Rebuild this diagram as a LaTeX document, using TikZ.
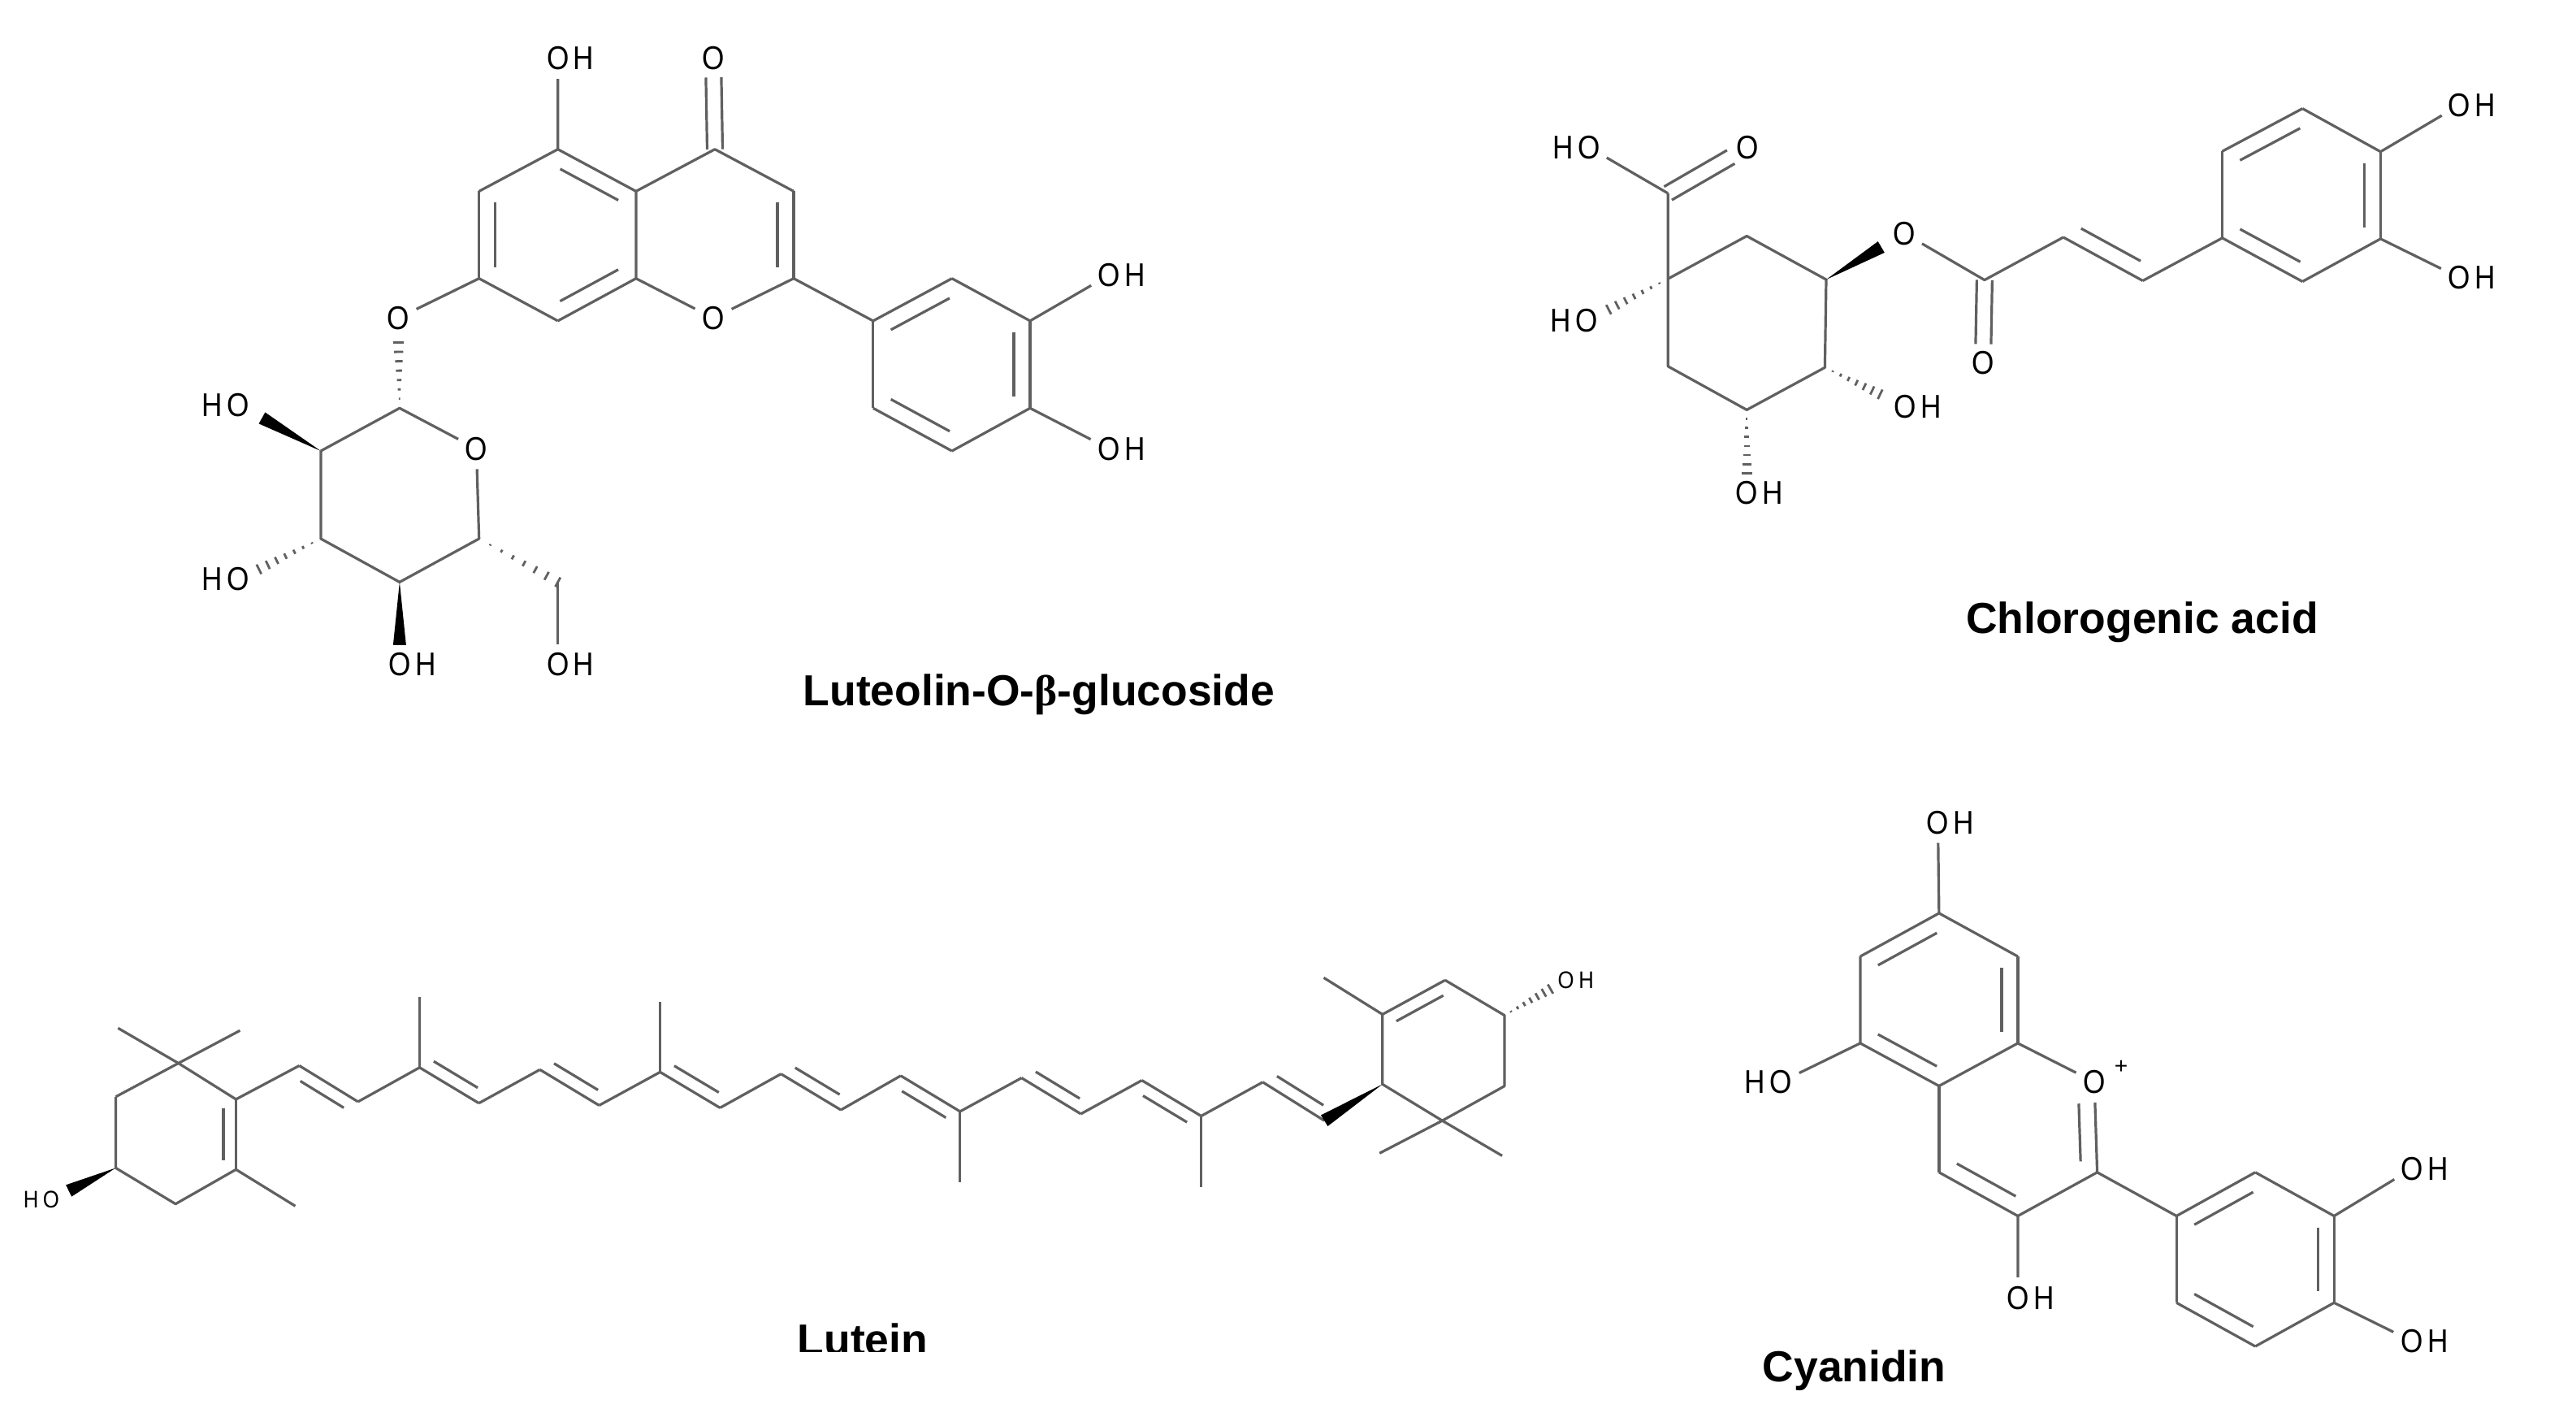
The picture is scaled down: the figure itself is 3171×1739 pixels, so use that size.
\documentclass[tikz,border=0pt]{standalone}
\usepackage{fontspec}
\setmainfont{Liberation Sans}
\newfontfamily\atomfont[FakeStretch=0.87]{Liberation Sans}
\newfontfamily\betafont{Liberation Serif}
\usetikzlibrary{calc, positioning}
\definecolor{bondgray}{RGB}{96,96,96}
\tikzset{
	bondline/.style={draw=bondgray, line width=0.032cm, line join=round},
	hashline/.style={draw=bondgray, line width=0.028cm},
	oatom/.style={circle, inner sep=0pt, minimum size=0.49cm, font=\atomfont\fontsize{11.5pt}{12pt}\selectfont},
	oatomsmall/.style={circle, inner sep=0pt, minimum size=0.3cm, font=\atomfont\fontsize{8.4pt}{9pt}\selectfont},
	chargelabel/.style={inner sep=0pt, font=\fontsize{8pt}{9pt}\selectfont},
	titlelabel/.style={inner sep=0pt, anchor=base west, font=\bfseries\fontsize{15.2pt}{17pt}\selectfont},
}
\newcommand\OHr{O\rlap{\kern1.6pt H}}
\newcommand\HOl{\llap{H\kern1.6pt}O}
\newcommand\dgap{0.2cm}
\newcommand\dcut{0.14cm}
\newcommand\dblbond[4][\dcut]{\pgfmathsetmacro\backang{-1*(#4)}\draw[bondline] (#2) -- (#3);\draw[bondline] ($($(#2)!\dcut!(#3)$)!\dgap!#4:(#3)$) -- ($($(#3)!#1!(#2)$)!\dgap!\backang:(#2)$);}
\newcommand\symbond[3][0.095cm]{\draw[bondline, shorten >=0.235cm] ($(#2)!#1!90:(#3)$) -- ($(#3)!#1!-90:(#2)$);\draw[bondline, shorten >=0.235cm] ($(#2)!#1!-90:(#3)$) -- ($(#3)!#1!90:(#2)$);}
\newcommand\wedgebond[3][0cm]{\coordinate (wedgeend) at ($(#3)!#1!(#2)$);\fill[black] (#2) -- ($(wedgeend)!0.08cm!90:(#2)$) -- ($(wedgeend)!0.08cm!-90:(#2)$) -- cycle;}
\newcommand\hashbond[3][0cm]{\coordinate (hashend) at ($(#3)!#1!(#2)$);\foreach \hk in {1,...,7} {\pgfmathsetmacro\hfrac{\hk/7}\pgfmathsetlengthmacro\hwid{0.065cm*\hk/7}\coordinate (hashstep) at ($(#2)!\hfrac!(hashend)$);\draw[hashline] ($(hashstep)!\hwid!90:(#2)$) -- ($(hashstep)!\hwid!-90:(#2)$);}}
\begin{document}
\begin{tikzpicture}[x=0.01cm,y=-0.01cm]
	\useasboundingbox (0,0) rectangle (3171,1739);

	% luteolin glucoside
	\coordinate (lc5) at (686.7,183.7); \coordinate (lc4a) at (782.9,235.4); \coordinate (lc8a) at (782.9,342.7);
	\coordinate (lc8) at (686.7,394.9); \coordinate (lc7) at (589.7,342.7); \coordinate (lc6) at (589.7,235.4);
	\coordinate (lc4) at (880,183.7); \coordinate (lc3) at (977,235.4); \coordinate (lc2) at (977,342.7);
	\coordinate (lb1) at (1074.8,394.9); \coordinate (lb2) at (1171.8,342.7); \coordinate (lb3) at (1268,394.9);
	\coordinate (lb4) at (1268,502.3); \coordinate (lb5) at (1171.8,555); \coordinate (lb6) at (1074.8,502.3);
	\coordinate (ls1) at (491.9,502.3); \coordinate (ls2) at (394.9,555); \coordinate (ls3) at (394.9,663);
	\coordinate (ls4) at (491.9,716.4); \coordinate (ls5) at (589.7,663); \coordinate (ls6) at (686.7,716.4);
	\node[oatom] (lo1) at (878,391.5) {O};
	\node[oatom] (lo4) at (878,71.8) {O};
	\node[oatom] (loh5) at (686.7,71.8) {\OHr};
	\node[oatom] (lo7) at (490,391.5) {O};
	\node[oatom] (loh3b) at (1365,338.7) {\OHr};
	\node[oatom] (loh4b) at (1365,552.2) {\OHr};
	\node[oatom] (los) at (586.4,552.2) {O};
	\node[oatom] (loh2s) at (293.7,498.3) {\HOl};
	\node[oatom] (loh3s) at (293.7,713) {\HOl};
	\node[oatom] (loh4s) at (491.9,818) {\OHr};
	\node[oatom] (loh6s) at (686.7,818) {\OHr};
	\draw[bondline] (lc6) -- (lc5) -- (loh5);
	\draw[bondline] (lc7) -- (lc8);
	\draw[bondline] (lc4a) -- (lc8a) -- (lo1) -- (lc2) -- (lb1);
	\draw[bondline] (lc4a) -- (lc4) -- (lc3);
	\draw[bondline] (lc7) -- (lo7);
	\draw[bondline] (lb2) -- (lb3) -- (loh3b);
	\draw[bondline] (lb4) -- (lb5);
	\draw[bondline] (lb6) -- (lb1);
	\draw[bondline] (lb4) -- (loh4b);
	\draw[bondline] (ls2) -- (ls1) -- (los) -- (ls5) -- (ls4) -- (ls3) -- (ls2);
	\draw[bondline] (ls6) -- (loh6s);
	\dblbond{lc5}{lc4a}{-90}
	\dblbond{lc6}{lc7}{90}
	\dblbond{lc8}{lc8a}{90}
	\dblbond{lc3}{lc2}{-90}
	\dblbond{lb1}{lb2}{-90}
	\dblbond{lb3}{lb4}{-90}
	\dblbond{lb5}{lb6}{-90}
	\symbond{lc4}{lo4}
	\wedgebond[0.33cm]{ls2}{loh2s}
	\wedgebond[0.24cm]{ls4}{loh4s}
	\hashbond[0.3cm]{ls1}{lo7}
	\hashbond[0.28cm]{ls3}{loh3s}
	\hashbond{ls5}{ls6}
	\node[titlelabel] (ltitle) at (988,868) {Luteolin-O-{\betafont β}-glucoside};

	% chlorogenic acid
	\coordinate (qc1) at (2053.2,343.2); \coordinate (qc2) at (2150.2,290.5); \coordinate (qc3) at (2248,344.1);
	\coordinate (qc4) at (2246.4,452.3); \coordinate (qc5) at (2150.2,504.4); \coordinate (qc6) at (2053.2,450.8);
	\coordinate (qcx) at (2053.2,237.9); \coordinate (qec) at (2442.9,344.6);
	\coordinate (qca) at (2539.9,292); \coordinate (qcb) at (2637.7,345.5);
	\coordinate (qr1) at (2735.6,292.9); \coordinate (qr2) at (2834.3,346.5); \coordinate (qr3) at (2930.4,293.9);
	\coordinate (qr4) at (2930.4,186.7); \coordinate (qr5) at (2834.3,133.6); \coordinate (qr6) at (2735.6,186.2);
	\node[oatom] (qohx) at (1956,181.4) {\HOl};
	\node[oatom] (qox) at (2151,181.4) {O};
	\node[oatom] (qoh1) at (1953.6,394.8) {\HOl};
	\node[oatom] (qoe) at (2344.2,287.2) {O};
	\node[oatom] (qoc) at (2441,447) {O};
	\node[oatom] (qoh4) at (2345,500.1) {\OHr};
	\node[oatom] (qoh5) at (2150.2,606.3) {\OHr};
	\node[oatom] (qoh3r) at (3027.5,129.3) {\OHr};
	\node[oatom] (qoh4r) at (3027.5,341.7) {\OHr};
	\draw[bondline] (qcx) -- (qc1) -- (qc2) -- (qc3) -- (qc4) -- (qc5) -- (qc6) -- (qc1);
	\draw[bondline] (qcx) -- (qohx);
	\draw[bondline] (qoe) -- (qec) -- (qca);
	\draw[bondline] (qcb) -- (qr1);
	\draw[bondline] (qr2) -- (qr3) -- (qoh4r);
	\draw[bondline] (qr4) -- (qr5);
	\draw[bondline] (qr6) -- (qr1);
	\draw[bondline] (qr4) -- (qoh3r);
	\dblbond{qca}{qcb}{90}
	\dblbond{qr1}{qr2}{90}
	\dblbond{qr3}{qr4}{90}
	\dblbond{qr5}{qr6}{90}
	\symbond{qcx}{qox}
	\symbond{qec}{qoc}
	\wedgebond[0.33cm]{qc3}{qoe}
	\hashbond[0.3cm]{qc1}{qoh1}
	\hashbond[0.34cm]{qc4}{qoh4}
	\hashbond[0.24cm]{qc5}{qoh5}
	\node[titlelabel] (qtitle) at (2419.5,779.5) {Chlorogenic acid};

	% lutein
	\renewcommand\dgap{0.155cm}
	\renewcommand\dcut{0.11cm}
	\coordinate (ug) at (219.6,1308.5); \coordinate (ua1) at (290.5,1352.9); \coordinate (ua2) at (290.5,1439.3);
	\coordinate (ua3) at (216.1,1481.7); \coordinate (ua4) at (142.5,1437.4); \coordinate (ua5) at (142.5,1349.8);
	\coordinate (um1) at (145.3,1265.3); \coordinate (um2) at (295.4,1268.3); \coordinate (um3) at (363.5,1484.3);
	\coordinate (uc1) at (368.4,1311.5); \coordinate (uc2) at (440.7,1355.9); \coordinate (uc3) at (516.5,1313.8);
	\coordinate (uc4) at (589.5,1357.7); \coordinate (uc5) at (664.6,1316.4); \coordinate (uc6) at (737.5,1360.4);
	\coordinate (uc7) at (812.6,1319.4); \coordinate (uc8) at (886.3,1363.4); \coordinate (uc9) at (961.4,1321.7);
	\coordinate (uc10) at (1035.1,1366); \coordinate (uc11) at (1108.8,1323.9); \coordinate (uc12) at (1181.8,1367.9);
	\coordinate (uc13) at (1257.5,1326.6); \coordinate (uc14) at (1330.5,1370.9); \coordinate (uc15) at (1405.6,1329.6);
	\coordinate (uc16) at (1478.6,1373.5); \coordinate (uc17) at (1554.4,1331.8); \coordinate (uc18) at (1630.2,1379.2);
	\coordinate (um4) at (516.5,1227); \coordinate (um5) at (812.6,1232.6);
	\coordinate (um6) at (1181.8,1455); \coordinate (um7) at (1478.6,1460.7);
	\coordinate (ub1) at (1701.8,1334.4); \coordinate (ub2) at (1701.8,1248.4); \coordinate (ub3) at (1778.9,1206.3);
	\coordinate (ub4) at (1851.9,1249.5); \coordinate (ub5) at (1851.9,1336.7); \coordinate (ubg) at (1775.4,1379.2);
	\coordinate (um8) at (1629.5,1203.3); \coordinate (um9) at (1698.2,1419.3); \coordinate (um10) at (1849.1,1422.4);
	\node[oatomsmall] (uohl) at (63,1476) {\HOl};
	\node[oatomsmall] (uohr) at (1927.7,1206.3) {\OHr};
	\draw[bondline] (ua5) -- (ug) -- (ua1);
	\draw[bondline] (ua5) -- (ua4) -- (ua3) -- (ua2);
	\draw[bondline] (um1) -- (ug) -- (um2);
	\draw[bondline] (ua2) -- (um3);
	\draw[bondline] (ua1) -- (uc1);
	\draw[bondline] (uc2) -- (uc3);
	\draw[bondline] (uc4) -- (uc5);
	\draw[bondline] (uc6) -- (uc7);
	\draw[bondline] (uc8) -- (uc9);
	\draw[bondline] (uc10) -- (uc11);
	\draw[bondline] (uc12) -- (uc13);
	\draw[bondline] (uc14) -- (uc15);
	\draw[bondline] (uc16) -- (uc17);
	\draw[bondline] (uc3) -- (um4);
	\draw[bondline] (uc7) -- (um5);
	\draw[bondline] (uc12) -- (um6);
	\draw[bondline] (uc16) -- (um7);
	\draw[bondline] (ub2) -- (ub1) -- (ubg) -- (ub5) -- (ub4) -- (ub3);
	\draw[bondline] (um8) -- (ub2);
	\draw[bondline] (um9) -- (ubg) -- (um10);
	\dblbond{ua1}{ua2}{-90}
	\dblbond{uc1}{uc2}{-90}
	\dblbond{uc3}{uc4}{90}
	\dblbond{uc5}{uc6}{90}
	\dblbond{uc7}{uc8}{90}
	\dblbond{uc9}{uc10}{90}
	\dblbond{uc11}{uc12}{-90}
	\dblbond{uc13}{uc14}{90}
	\dblbond{uc15}{uc16}{-90}
	\dblbond{uc17}{uc18}{90}
	\dblbond{ub2}{ub3}{-90}
	\wedgebond[0.24cm]{ua4}{uohl}
	\wedgebond{ub1}{uc18}
	\hashbond[0.22cm]{ub4}{uohr}
	\begin{scope}
		\clip (900,1600) rectangle (1200,1663);
		\node[titlelabel] (utitle) at (981,1667) {Lutein};
	\end{scope}

	% cyanidin
	\renewcommand\dgap{0.2cm}
	\renewcommand\dcut{0.14cm}
	\coordinate (cc6) at (2386.9,1123.9); \coordinate (cc5) at (2289.9,1177.1); \coordinate (cc4) at (2289.9,1283.9);
	\coordinate (cc4a) at (2386.9,1336.5); \coordinate (cc8a) at (2483.9,1283.9); \coordinate (cc8) at (2483.9,1177.1);
	\coordinate (cc2) at (2581.6,1442.8); \coordinate (cc3) at (2483.9,1496.5); \coordinate (cc1) at (2386.9,1442.8);
	\coordinate (cb1) at (2679.2,1496.5); \coordinate (cb2) at (2776.2,1442.8); \coordinate (cb3) at (2873.2,1496.5);
	\coordinate (cb4) at (2873.2,1603.3); \coordinate (cb5) at (2776.2,1657); \coordinate (cb6) at (2679.2,1603.3);
	\node[oatom] (co1) at (2578.1,1331.6) {O};
	\node[chargelabel] (cplus) at (2611,1313.7) {+};
	\node[oatom] (coh7) at (2385.5,1012.2) {\OHr};
	\node[oatom] (coh5) at (2192.2,1331.6) {\HOl};
	\node[oatom] (coh3) at (2483.9,1597.4) {\OHr};
	\node[oatom] (coh3b) at (2968.9,1438.4) {\OHr};
	\node[oatom] (coh4b) at (2968.9,1650.5) {\OHr};
	\draw[bondline] (coh7) -- (cc6);
	\draw[bondline] (cc6) -- (cc8);
	\draw[bondline] (cc5) -- (cc4) -- (coh5);
	\draw[bondline] (cc4a) -- (cc8a) -- (co1);
	\draw[bondline] (cc4a) -- (cc1);
	\draw[bondline] (coh3) -- (cc3) -- (cc2) -- (cb1);
	\draw[bondline] (cb2) -- (cb3) -- (coh3b);
	\draw[bondline] (cb4) -- (cb5);
	\draw[bondline] (cb6) -- (cb1);
	\draw[bondline] (cb4) -- (coh4b);
	\dblbond{cc6}{cc5}{90}
	\dblbond{cc8}{cc8a}{-90}
	\dblbond{cc4}{cc4a}{90}
	\dblbond{cc1}{cc3}{90}
	\dblbond[0.26cm]{cc2}{co1}{90}
	\dblbond{cb1}{cb2}{-90}
	\dblbond{cb3}{cb4}{-90}
	\dblbond{cb5}{cb6}{-90}
	\node[titlelabel] (ctitle) at (2169,1700) {Cyanidin};
\end{tikzpicture}
\end{document}
